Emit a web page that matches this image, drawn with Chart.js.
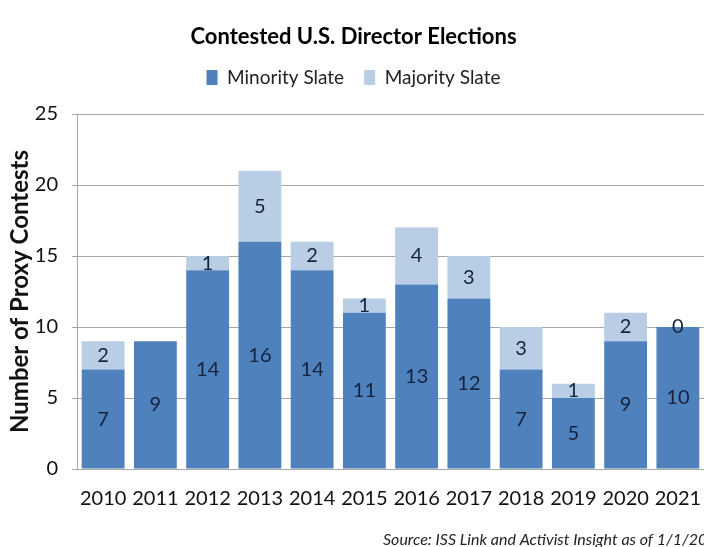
<!DOCTYPE html>
<html>
<head>
<meta charset="utf-8">
<script src="https://cdn.jsdelivr.net/npm/chart.js@4"></script>
<style>
  html, body { margin: 0; padding: 0; background: #fff; overflow: hidden; }
  #wrap { width: 704px; height: 547px; }
</style>
</head>
<body>
<div id="wrap"><canvas id="chart"></canvas></div>
<script>
const years = ["2010", "2011", "2012", "2013", "2014", "2015", "2016", "2017", "2018", "2019", "2020", "2021"];
const minoritySlate = [7, 9, 14, 16, 14, 11, 13, 12, 7, 5, 9, 10];
const majoritySlate = [2, null, 1, 5, 2, 1, 4, 3, 3, 1, 2, 0];
const yTicks = [0, 5, 10, 15, 20, 25];
const sourceNote = "Source: ISS Link and Activist Insight as of 1/1/2022";

const FONT = "Lato, 'Open Sans', sans-serif";

// numbers inside each bar segment
const segmentLabels = {
  id: "segmentLabels",
  afterDatasetsDraw(chart) {
    const ctx = chart.ctx;
    ctx.save();
    ctx.font = "20px " + FONT;
    ctx.fillStyle = "#15223d";
    ctx.textAlign = "center";
    ctx.textBaseline = "middle";
    chart.data.datasets.forEach((ds, i) => {
      const meta = chart.getDatasetMeta(i);
      meta.data.forEach((bar, j) => {
        const v = ds.data[j];
        if (v === null || v === undefined) return;
        const y = v === 0 ? bar.y : (bar.y + bar.base) / 2;
        ctx.fillText(String(v), bar.x, y);
      });
    });
    ctx.restore();
  },
};

// top border of the plot + source note (runs off the right edge like the original)
const frameAndNote = {
  id: "frameAndNote",
  beforeInit(chart) {
    // leave some room under the legend
    const fit = chart.legend.fit;
    chart.legend.fit = function () {
      fit.call(this);
      this.height += 17;
    };
  },
  beforeDatasetsDraw(chart) {
    const { ctx, chartArea } = chart;
    ctx.save();
    ctx.strokeStyle = "#a6a6a6";
    ctx.lineWidth = 1;
    ctx.beginPath();
    ctx.moveTo(chartArea.left, chartArea.top + 0.5);
    ctx.lineTo(chartArea.right, chartArea.top + 0.5);
    ctx.stroke();
    ctx.restore();
  },
  afterDraw(chart) {
    const ctx = chart.ctx;
    ctx.save();
    ctx.font = "italic 16px " + FONT;
    ctx.fillStyle = "#222";
    ctx.textAlign = "left";
    ctx.textBaseline = "middle";
    ctx.fillText(sourceNote, 383, 540);
    ctx.restore();
  },
};

new Chart(document.getElementById("chart").getContext("2d"), {
  type: "bar",
  data: {
    labels: years,
    datasets: [
      {
        label: "Minority Slate",
        data: minoritySlate,
        backgroundColor: "#4f81bd",
        categoryPercentage: 1,
        barPercentage: 0.82,
      },
      {
        label: "Majority Slate",
        data: majoritySlate,
        backgroundColor: "#b9cde5",
        categoryPercentage: 1,
        barPercentage: 0.82,
      },
    ],
  },
  options: {
    responsive: true,
    maintainAspectRatio: false,
    animation: false,
    layout: { padding: { left: 0, right: -3, top: 26, bottom: 0 } },
    plugins: {
      title: {
        display: true,
        text: "Contested U.S. Director Elections",
        color: "#000",
        font: { family: FONT, size: 22, weight: "bold", lineHeight: 1 },
        padding: { top: 0, bottom: 0 },
      },
      legend: {
        display: true,
        labels: {
          color: "#222",
          font: { family: FONT, size: 19 },
          boxWidth: 11,
          boxHeight: 15,
          padding: 20,
        },
      },
      tooltip: { enabled: false },
    },
    scales: {
      x: {
        stacked: true,
        afterFit: (axis) => {
          axis.height = 78;
          axis.paddingLeft = 0;
          axis.paddingRight = 0;
        },
        grid: { display: false, drawTicks: false },
        border: { color: "#a6a6a6" },
        ticks: {
          color: "#111",
          font: { family: FONT, size: 20 },
          padding: 18,
          minRotation: 0,
          maxRotation: 0,
          autoSkip: false,
        },
      },
      y: {
        stacked: true,
        min: 0,
        max: 25,
        afterFit: (axis) => { axis.width = 77; },
        afterBuildTicks: (axis) => {
          axis.ticks = yTicks.map((v) => ({ value: v }));
        },
        grid: { color: "#a6a6a6", tickLength: 5, drawTicks: true },
        border: { color: "#a6a6a6" },
        ticks: { color: "#111", font: { family: FONT, size: 20 }, padding: 14 },
        title: {
          display: true,
          text: "Number of Proxy Contests",
          color: "#111",
          font: { family: FONT, size: 24, weight: "bold" },
          padding: { top: 6, bottom: 0 },
        },
      },
    },
  },
  plugins: [segmentLabels, frameAndNote],
});
</script>
</body>
</html>
